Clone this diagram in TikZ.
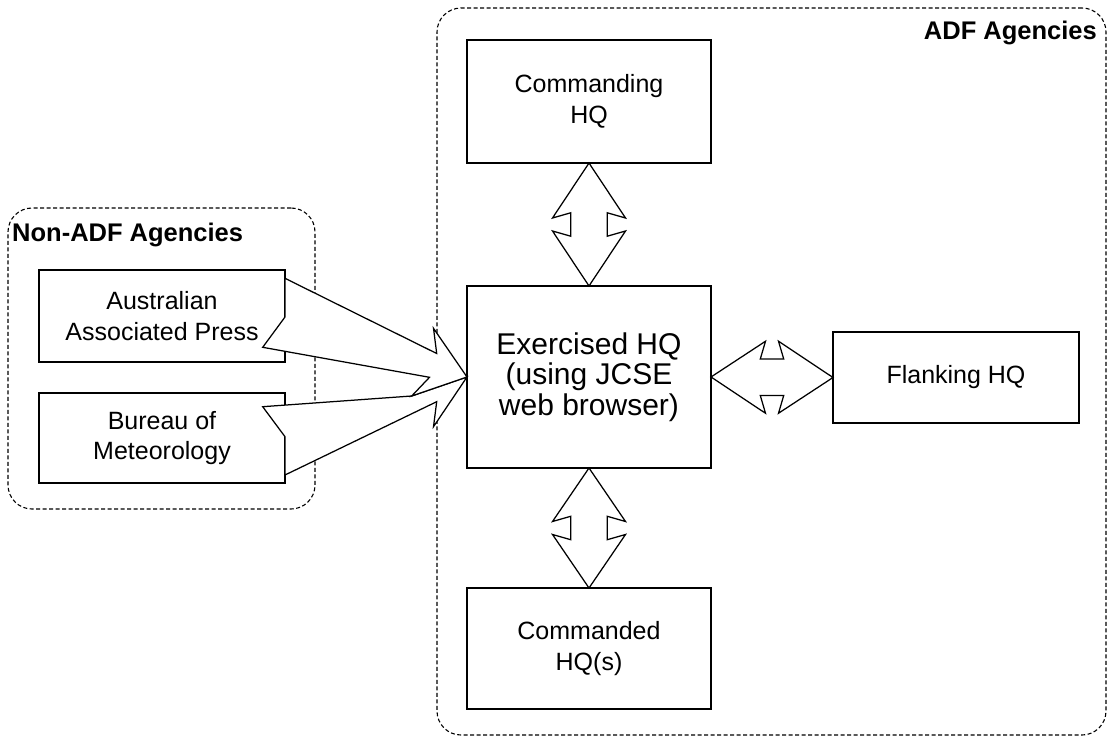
\documentclass[tikz,border=0pt]{standalone}
\usepackage{fontspec}
\setmainfont{Liberation Sans}
\usetikzlibrary{calc}

\begin{document}
\begin{tikzpicture}[x=1pt,y=-1pt,
  box/.style={draw, line width=1.3pt, fill=white, inner sep=0pt, outer sep=0pt,
    align=center, font=\fontsize{25}{30.5}\selectfont},
  group/.style={draw, line width=1.1pt, dash pattern=on 4pt off 2.5pt,
    rounded corners=24pt, inner sep=0pt, outer sep=0pt},
  grouplabel/.style={font=\bfseries\fontsize{25.5}{30}\selectfont, inner sep=0pt},
  blockarrow/.style={draw, fill=white, line width=1.25pt, line join=miter}]
\useasboundingbox (0,0) rectangle (1108,738);

% agency groupings
\node[group, minimum width=669pt, minimum height=727pt] (adf) at (771.5,371.5) {};
\node[group, minimum width=307pt, minimum height=301pt] (nonadf) at (161.5,358.5) {};
\node[grouplabel, anchor=base west] (nonadflabel) at (12,241) {Non-ADF Agencies};
\node[grouplabel, anchor=base east] (adflabel) at (1097,40) {ADF Agencies};

% headquarters and information sources
\node[box, minimum width=244pt, minimum height=123pt] (cmd) at (589,101.5) {Commanding\\HQ};
\node[box, minimum width=244pt, minimum height=182pt,
      font=\fontsize{30}{30.5}\selectfont] (exe) at (589,377) {Exercised HQ\\(using JCSE\\web browser)};
\node[box, minimum width=244pt, minimum height=121pt] (cdd) at (589,648.5) {Commanded\\HQ(s)};
\node[box, minimum width=246pt, minimum height=91pt] (flk) at (956,377.5) {Flanking HQ};
\node[box, minimum width=246pt, minimum height=92pt] (aap) at (162,316) {Australian\\Associated Press};
\node[box, minimum width=246pt, minimum height=90pt] (bom) at (162,438) {Bureau of\\Meteorology};

% two-way links
\coordinate (m1) at ($(cmd.south)!0.5!(exe.north)$);
\draw[blockarrow] (cmd.south) -- ($(m1)+(36.5,-6.5)$) -- ($(m1)+(18.3,-11.7)$)
  -- ($(m1)+(18.3,11.7)$) -- ($(m1)+(36.5,6.5)$) -- (exe.north)
  -- ($(m1)+(-36.5,6.5)$) -- ($(m1)+(-18.3,11.7)$) -- ($(m1)+(-18.3,-11.7)$)
  -- ($(m1)+(-36.5,-6.5)$) -- cycle;

\coordinate (m2) at ($(exe.south)!0.5!(cdd.north)$);
\draw[blockarrow] (exe.south) -- ($(m2)+(36.5,-6.5)$) -- ($(m2)+(18.3,-11.7)$)
  -- ($(m2)+(18.3,11.7)$) -- ($(m2)+(36.5,6.5)$) -- (cdd.north)
  -- ($(m2)+(-36.5,6.5)$) -- ($(m2)+(-18.3,11.7)$) -- ($(m2)+(-18.3,-11.7)$)
  -- ($(m2)+(-36.5,-6.5)$) -- cycle;

\coordinate (m3) at ($(exe.east)!0.5!(flk.west)$);
\draw[blockarrow] (exe.east) -- ($(m3)+(-6.5,-36)$) -- ($(m3)+(-11.7,-18.3)$)
  -- ($(m3)+(11.7,-18.3)$) -- ($(m3)+(6.5,-36)$) -- (flk.west)
  -- ($(m3)+(6.5,36)$) -- ($(m3)+(11.7,18.3)$) -- ($(m3)+(-11.7,18.3)$)
  -- ($(m3)+(-6.5,36)$) -- cycle;

% one-way feeds into the exercised HQ
\coordinate (tip) at (exe.west);
\draw[blockarrow] ($(bom.east)+(-22.3,-31.3)$) -- ($(tip)+(-55.3,19)$) -- (tip)
  -- ($(tip)+(-33.5,49.7)$) -- ($(tip)+(-30.3,24.7)$)
  -- ($(bom.south east)+(0,-8)$) -- ($(bom.east)+(0,-1.3)$) -- cycle;
\draw[blockarrow] ($(aap.north east)+(0,8.3)$) -- ($(tip)+(-30.3,-23.5)$)
  -- ($(tip)+(-33.5,-48.7)$) -- (tip) -- ($(tip)+(-55.3,19)$)
  -- ($(tip)+(-37.5,0.3)$) -- ($(aap.east)+(-22.3,31.3)$)
  -- ($(aap.east)+(0,1)$) -- cycle;
\end{tikzpicture}
\end{document}
